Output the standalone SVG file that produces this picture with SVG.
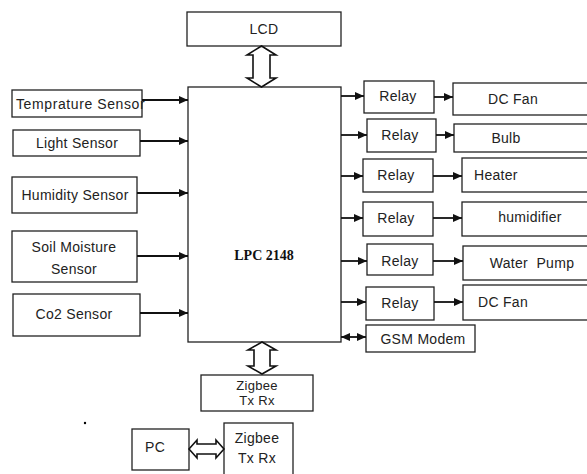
<svg xmlns="http://www.w3.org/2000/svg" width="587" height="474" viewBox="0 0 587 474">
<style>
.box{fill:#fff;stroke:#222;stroke-width:1.3}
.t{font-family:"Liberation Sans",Arial,sans-serif;font-size:14px;fill:#222;letter-spacing:0.3px}
.c{text-anchor:middle}
.w{stroke:#111;stroke-width:1.8;fill:none}
.dbl{fill:#fff;stroke:#111;stroke-width:1.6;stroke-linejoin:miter}
</style>
<defs>
<marker id="ah" markerUnits="userSpaceOnUse" markerWidth="10" markerHeight="10" refX="9" refY="5" orient="auto">
<path d="M0,1 L9,5 L0,9 z" fill="#111"/>
</marker>
<marker id="as" markerUnits="userSpaceOnUse" markerWidth="10" markerHeight="10" refX="9" refY="5" orient="auto-start-reverse">
<path d="M0,1 L9,5 L0,9 z" fill="#111"/>
</marker>
</defs>
<rect width="587" height="474" fill="#fff"/>

<g id="lcd"><rect class="box" x="187" y="12" width="154" height="34"/><text class="t c" x="264" y="34">LCD</text></g>
<g id="lpc"><rect class="box" x="188" y="87" width="153" height="255"/><text x="264" y="260" text-anchor="middle" font-family="'Liberation Serif','Times New Roman',serif" font-weight="bold" font-size="14" fill="#111">LPC 2148</text></g>

<g id="temp"><rect class="box" x="12" y="90" width="130" height="27"/><text class="t" x="16" y="109" style="letter-spacing:0.6px">Temprature Sensor</text></g>
<g id="light"><rect class="box" x="13" y="130" width="127" height="26"/><text class="t c" x="77" y="148">Light Sensor</text></g>
<g id="humid"><rect class="box" x="12" y="177" width="125" height="36"/><text class="t c" x="75" y="200">Humidity Sensor</text></g>
<g id="soil"><rect class="box" x="12" y="231" width="125" height="51"/><text class="t c" x="74" y="252">Soil Moisture</text><text class="t c" x="74" y="274">Sensor</text></g>
<g id="co2"><rect class="box" x="13" y="294" width="127" height="42"/><text class="t c" x="74" y="319">Co2 Sensor</text></g>

<g id="relay1"><rect class="box" x="364" y="81" width="70" height="32"/><text class="t c" x="398" y="101">Relay</text></g>
<g id="relay2"><rect class="box" x="367" y="119" width="69" height="33"/><text class="t c" x="400" y="140">Relay</text></g>
<g id="relay3"><rect class="box" x="363" y="159" width="70" height="33"/><text class="t c" x="396" y="180">Relay</text></g>
<g id="relay4"><rect class="box" x="363" y="202" width="70" height="34"/><text class="t c" x="396" y="223">Relay</text></g>
<g id="relay5"><rect class="box" x="367" y="244" width="66" height="31"/><text class="t c" x="400" y="266">Relay</text></g>
<g id="relay6"><rect class="box" x="366" y="287" width="68" height="33"/><text class="t c" x="400" y="308">Relay</text></g>

<g id="dcfan1"><rect class="box" x="453" y="83" width="140" height="32"/><text class="t c" x="513" y="104">DC Fan</text></g>
<g id="bulb"><rect class="box" x="454" y="124" width="140" height="28"/><text class="t c" x="506" y="143">Bulb</text></g>
<g id="heater"><rect class="box" x="462" y="158" width="130" height="34"/><text class="t" x="474" y="180">Heater</text></g>
<g id="humidifier"><rect class="box" x="462" y="202" width="130" height="34"/><text class="t c" x="530" y="222">humidifier</text></g>
<g id="pump"><rect class="box" x="463" y="246" width="130" height="34"/><text class="t c" x="532" y="268" xml:space="preserve">Water  Pump</text></g>
<g id="dcfan2"><rect class="box" x="463" y="285" width="130" height="35"/><text class="t c" x="503" y="307">DC Fan</text></g>
<g id="gsm"><rect class="box" x="366" y="325" width="109" height="27"/><text class="t c" x="423" y="344">GSM Modem</text></g>

<g id="zigbee1"><rect class="box" x="201" y="375" width="112" height="36"/><text class="t c" x="257" y="390" style="font-size:13px">Zigbee</text><text class="t c" x="257" y="405" style="font-size:13px">Tx Rx</text></g>
<g id="pc"><rect class="box" x="132" y="429" width="57" height="41"/><text class="t" x="145" y="452">PC</text></g>
<g id="zigbee2"><rect class="box" x="224" y="423" width="69" height="55"/><text class="t c" x="257" y="443">Zigbee</text><text class="t c" x="257" y="463">Tx Rx</text></g>

<circle cx="85" cy="423" r="1.2" fill="#000"/>

<g id="connectors">
<line class="w" x1="142" y1="100" x2="188" y2="100" marker-end="url(#ah)"/>
<line class="w" x1="140" y1="141" x2="188" y2="141" marker-end="url(#ah)"/>
<line class="w" x1="137" y1="193" x2="188" y2="193" marker-end="url(#ah)"/>
<line class="w" x1="137" y1="256" x2="188" y2="256" marker-end="url(#ah)"/>
<line class="w" x1="140" y1="313" x2="188" y2="313" marker-end="url(#ah)"/>

<line class="w" x1="341" y1="96" x2="364" y2="96" marker-end="url(#ah)"/>
<line class="w" x1="341" y1="135" x2="367" y2="135" marker-end="url(#ah)"/>
<line class="w" x1="341" y1="176" x2="363" y2="176" marker-end="url(#ah)"/>
<line class="w" x1="341" y1="218" x2="363" y2="218" marker-end="url(#ah)"/>
<line class="w" x1="341" y1="261" x2="367" y2="261" marker-end="url(#ah)"/>
<line class="w" x1="341" y1="302" x2="366" y2="302" marker-end="url(#ah)"/>

<line class="w" x1="434" y1="97" x2="453" y2="97" marker-end="url(#ah)"/>
<line class="w" x1="436" y1="135" x2="454" y2="135" marker-end="url(#ah)"/>
<line class="w" x1="433" y1="176" x2="462" y2="176" marker-end="url(#ah)"/>
<line class="w" x1="433" y1="218" x2="462" y2="218" marker-end="url(#ah)"/>
<line class="w" x1="433" y1="261" x2="463" y2="261" marker-end="url(#ah)"/>
<line class="w" x1="434" y1="302" x2="463" y2="302" marker-end="url(#ah)"/>

<line class="w" x1="341" y1="337" x2="366" y2="337" marker-start="url(#as)" marker-end="url(#as)"/>

<polygon class="dbl" points="261.5,46 276,55 270,55 270,78 276,78 261.5,87 247,78 253,78 253,55 247,55"/>
<polygon class="dbl" points="262,342 276,350 270,350 270,366 276,366 262,374 248,366 254,366 254,350 248,350"/>
<polygon class="dbl" points="189,449 197,440 197,444 216,444 216,440 224,449 216,458 216,454 197,454 197,458"/>
</g>
</svg>
